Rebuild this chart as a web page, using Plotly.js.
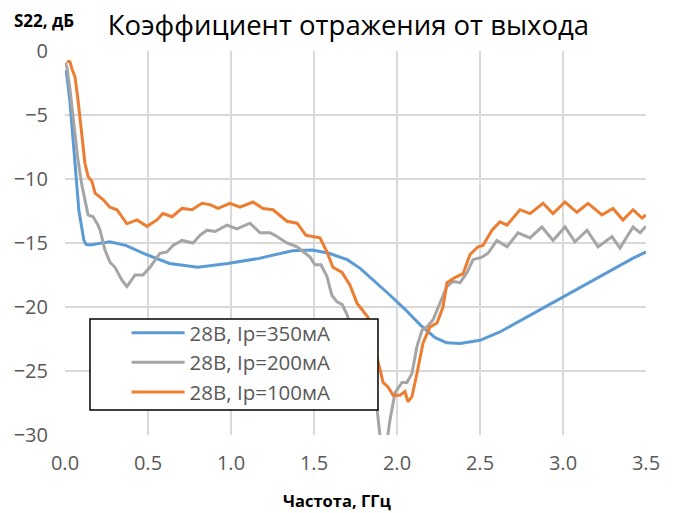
<!DOCTYPE html>
<html>
<head>
<meta charset="utf-8">
<script src="https://cdn.plot.ly/plotly-3.0.1.min.js"></script>
<style>html,body{margin:0;padding:0;background:#fff;}#chart{width:674px;height:513px;}</style>
</head>
<body>
<div id="chart"></div>
<script>
// Series names
const seriesNames = ["28В, Ip=350мА", "28В, Ip=200мА", "28В, Ip=100мА"];

// 28В, Ip=350мА (frequency, GHz / S22, dB)
const f350 = [0.003,0.012,0.03,0.048,0.066,0.084,0.114,0.127,0.15,0.27,0.37,0.49,0.63,0.80,0.98,1.17,1.37,1.49,1.59,1.70,1.78,1.86,1.96,2.05,2.14,2.23,2.30,2.38,2.50,2.62,2.82,3.02,3.22,3.42,3.50];
const s350 = [-1.5,-2.0,-4.0,-7.0,-10.0,-12.5,-14.8,-15.1,-15.15,-14.9,-15.2,-15.9,-16.6,-16.9,-16.6,-16.2,-15.6,-15.55,-15.8,-16.3,-17.0,-17.9,-19.1,-20.2,-21.4,-22.4,-22.8,-22.85,-22.6,-21.95,-20.5,-19.1,-17.65,-16.2,-15.7];

// 28В, Ip=200мА
const f200 = [0.0,0.012,0.03,0.054,0.078,0.102,0.12,0.139,0.169,0.199,0.211,0.241,0.271,0.301,0.343,0.373,0.422,0.47,0.512,0.572,0.614,0.651,0.705,0.771,0.813,0.855,0.904,0.976,1.036,1.114,1.175,1.235,1.265,1.337,1.398,1.476,1.506,1.542,1.578,1.608,1.639,1.669,1.699,1.747,1.807,1.849,1.88,1.904,1.934,1.958,1.988,2.03,2.06,2.09,2.12,2.151,2.181,2.217,2.259,2.301,2.337,2.38,2.422,2.458,2.512,2.548,2.602,2.663,2.729,2.801,2.873,2.94,3.012,3.072,3.145,3.211,3.295,3.343,3.422,3.464,3.5];
const s200 = [-0.9,-1.3,-3.0,-6.0,-8.5,-10.5,-11.5,-12.8,-12.95,-13.6,-14.0,-15.55,-16.5,-16.9,-17.9,-18.4,-17.5,-17.5,-16.9,-15.8,-15.7,-15.2,-14.8,-15.0,-14.4,-14.0,-14.1,-13.6,-13.9,-13.45,-14.2,-14.2,-14.4,-15.0,-15.3,-16.1,-16.7,-16.7,-17.6,-19.1,-19.6,-19.8,-20.6,-22.5,-25.0,-27.0,-28.0,-30.8,-31.0,-28.8,-26.7,-25.9,-25.9,-25.2,-23.1,-21.8,-21.55,-21.0,-19.7,-18.4,-18.0,-18.1,-17.3,-16.3,-16.1,-15.8,-14.8,-15.3,-14.2,-14.6,-13.75,-14.8,-13.75,-14.9,-14.0,-15.3,-14.5,-15.4,-13.75,-14.2,-13.7];

// 28В, Ip=100мА
const f100 = [0.012,0.03,0.042,0.06,0.078,0.102,0.12,0.139,0.163,0.181,0.229,0.271,0.313,0.373,0.434,0.494,0.554,0.59,0.645,0.705,0.765,0.825,0.873,0.922,0.994,1.054,1.133,1.193,1.253,1.337,1.398,1.452,1.494,1.536,1.578,1.614,1.669,1.717,1.759,1.789,1.825,1.861,1.88,1.898,1.916,1.946,1.976,2.018,2.048,2.066,2.09,2.12,2.157,2.199,2.241,2.277,2.301,2.349,2.398,2.44,2.488,2.518,2.572,2.62,2.663,2.741,2.801,2.88,2.94,3.012,3.084,3.151,3.235,3.301,3.361,3.422,3.476,3.5];
const s100 = [-0.8,-0.85,-1.4,-2.0,-3.8,-6.4,-8.75,-9.8,-10.2,-11.1,-11.6,-12.2,-12.4,-13.5,-13.2,-13.7,-13.2,-12.7,-12.95,-12.3,-12.4,-11.9,-12.0,-12.3,-11.9,-12.2,-11.8,-12.3,-12.4,-13.3,-13.45,-14.4,-14.5,-14.6,-15.7,-16.9,-17.3,-18.3,-19.7,-20.2,-20.8,-22.5,-24.0,-24.9,-25.9,-26.25,-26.9,-26.9,-26.6,-27.4,-27.0,-25.2,-22.8,-21.55,-21.25,-20.0,-18.1,-17.7,-17.4,-15.9,-15.3,-15.2,-14.0,-13.35,-13.6,-12.4,-12.7,-11.9,-12.7,-11.8,-12.6,-11.9,-12.8,-12.3,-13.2,-12.4,-13.05,-12.8];

const xTicks = [0, 0.5, 1.0, 1.5, 2.0, 2.5, 3.0, 3.5];
const yTicks = [0, -5, -10, -15, -20, -25, -30];

const colors = ["#5B9BD5", "#A5A5A5", "#ED7D31"];
const xs = [f350, f200, f100];
const ys = [s350, s200, s100];

const traces = seriesNames.map((n, i) => ({
  x: xs[i], y: ys[i], name: n, type: "scatter", mode: "lines",
  line: {color: colors[i], width: 3, shape: "linear"}
}));

const FONT = "Open Sans, Noto Sans, sans-serif";

const layout = {
  width: 674, height: 513,
  margin: {l: 65, r: 28, t: 51, b: 78},
  paper_bgcolor: "#fff", plot_bgcolor: "#fff",
  font: {family: FONT, color: "#595959"},
  showlegend: true,
  title: {text: "Коэффициент отражения от выхода", font: {family: FONT, size: 27.5, color: "#000"},
          x: 0.517, xanchor: "center", y: 0.951, yanchor: "middle"},
  xaxis: {
    range: [0, 3.5], tickvals: xTicks, tickformat: ".1f",
    showgrid: true, gridcolor: "#d9d9d9", gridwidth: 1.5,
    zeroline: false, showline: false, ticks: "",
    ticklabelstandoff: 14,
    tickfont: {family: FONT, size: 20, color: "#595959"}
  },
  yaxis: {
    range: [-30, 0], tickvals: yTicks,
    showgrid: true, gridcolor: "#d9d9d9", gridwidth: 1.5,
    zeroline: false, showline: false, ticks: "",
    ticklabelstandoff: 16,
    tickfont: {family: FONT, size: 20, color: "#595959"}
  },
  legend: {
    x: 0.106, xanchor: "left", y: 0.318, yanchor: "top",
    bgcolor: "rgba(0,0,0,0)", borderwidth: 0,
    font: {family: FONT, size: 20.5, color: "#595959"},
    itemwidth: 53, tracegroupgap: 0
  },
  shapes: [{
    type: "rect", xref: "paper", yref: "paper",
    x0: 0.043, x1: 0.5387, y0: 0.065, y1: 0.302,
    fillcolor: "#fff", line: {color: "#000", width: 1.5}, layer: "above"
  }],
  annotations: [
    {text: "<b>S22, дБ</b>", xref: "paper", yref: "paper", x: -0.092, y: 1.08,
     xanchor: "left", yanchor: "middle", showarrow: false,
     font: {family: FONT, size: 17, color: "#000"}},
    {text: "<b>Частота, ГГц</b>", xref: "paper", yref: "paper", x: 0.468, y: -0.17,
     xanchor: "center", yanchor: "middle", showarrow: false,
     font: {family: FONT, size: 16.5, color: "#000"}}
  ]
};

Plotly.newPlot("chart", traces, layout, {displayModeBar: false, staticPlot: true});
</script>
</body>
</html>
